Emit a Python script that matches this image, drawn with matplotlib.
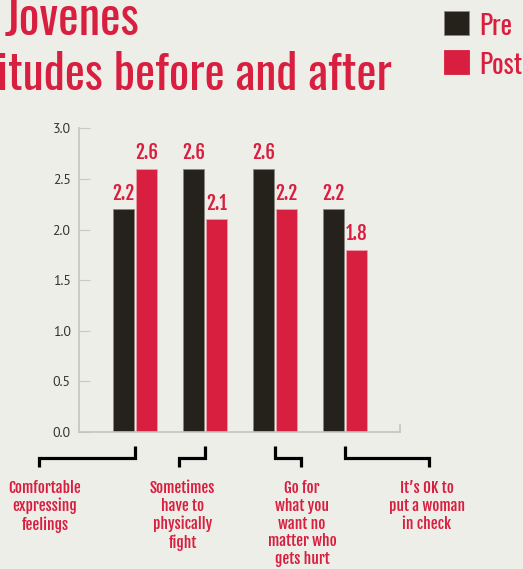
import matplotlib
matplotlib.use("Agg")
import numpy as np
import matplotlib.pyplot as plt
import matplotlib.transforms as mtransforms

categories = [
    "Comfortable\nexpressing\nfeelings",
    "Sometimes\nhave to\nphysically\nfight",
    "Go for\nwhat you\nwant no\nmatter who\ngets hurt",
    "It\u2019s OK to\nput a woman\nin check",
]
pre = [2.2, 2.6, 2.6, 2.2]
post = [2.6, 2.1, 2.2, 1.8]
yticks = [0.0, 0.5, 1.0, 1.5, 2.0, 2.5, 3.0]

# bracket ends and label centres under each group (data x)
bracket_x = [-1.371, 0.633, 2.367, 4.2]
label_x = [-1.286, 0.681, 2.386, 4.171]

BG = "#eeeee8"
DARK = "#25211b"
RED = "#d91f40"
TITLE = ["Oswald", "DejaVu Sans"]
BOLD = ["Fjalla One", "Oswald", "DejaVu Sans"]

fig = plt.figure(figsize=(5.23, 5.69), dpi=100, facecolor=BG)
W, H = 523, 569
ax = fig.add_axes([79 / W, 1 - 432 / H, (400 - 79) / W, (432 - 128.3) / H])
ax.set_facecolor(BG)

x = np.arange(len(pre))
width = 0.3
off = 0.167
b1 = ax.bar(x - off, pre, width, color=DARK, edgecolor="#8a8680", linewidth=0.6, label="Pre")
b2 = ax.bar(x + off, post, width, color=RED, edgecolor="#e8a0ac", linewidth=0.6, label="Post")

for bars in (b1, b2):
    for r in bars:
        ax.annotate(f"{r.get_height():.1f}", (r.get_x() + r.get_width() / 2, r.get_height()),
                    xytext=(0, 4), textcoords="offset points", ha="center", va="bottom",
                    color=RED, fontsize=13.5, family=BOLD)

ax.set_xlim(-0.8, 3.787)
ax.set_ylim(0, 3)
ax.set_yticks(yticks)
ax.set_yticklabels([f"{t:.1f}" for t in yticks], family=["Source Sans Pro", "PT Sans", "DejaVu Sans"],
                   fontsize=10, color="#333333")
ax.set_xticks([])
ax.tick_params(axis="y", direction="in", length=8, color="#c8c8c4", pad=6)
ax.spines["top"].set_visible(False)
for s in ("left", "bottom", "right"):
    ax.spines[s].set_color("#c4c4c0")
    ax.spines[s].set_linewidth(1.2)
ax.spines["right"].set_bounds(0, 0.07)

# brackets from each group centre down to its label
tr = mtransforms.blended_transform_factory(ax.transData, ax.transAxes)
for xc, bx, lx, lab in zip(x, bracket_x, label_x, categories):
    ax.plot([xc, xc, bx, bx], [-0.046, -0.086, -0.086, -0.116], transform=tr,
            color="black", lw=2.3, clip_on=False, solid_joinstyle="miter", solid_capstyle="butt")
    ax.text(lx, -0.158, lab, transform=tr, ha="center", va="top", color=RED,
            fontsize=11, family=BOLD, linespacing=1.14)

# title, partly off the left edge as in the original
fig.text(5 / W, 1 - 35 / H, "Jovenes", color=RED, fontsize=35, family=TITLE, va="baseline", ha="left")
fig.text(392 / W, 1 - 90 / H, "Attitudes before and after", color=RED, fontsize=34.5, family=TITLE,
         va="baseline", ha="right")

# legend
for i, (lab, col) in enumerate([("Pre", DARK), ("Post", RED)]):
    y0 = 1 - (35 + 39 * i) / H
    fig.patches.append(plt.Rectangle((444 / W, y0), 25 / W, 24 / H, transform=fig.transFigure,
                                     facecolor=col, edgecolor="#8a8680" if i == 0 else col, lw=0.6))
    fig.text(479 / W, y0, lab, color=RED, fontsize=19.5, family=TITLE, va="baseline", ha="left")

fig.savefig("out.png", dpi=100, facecolor=BG)
